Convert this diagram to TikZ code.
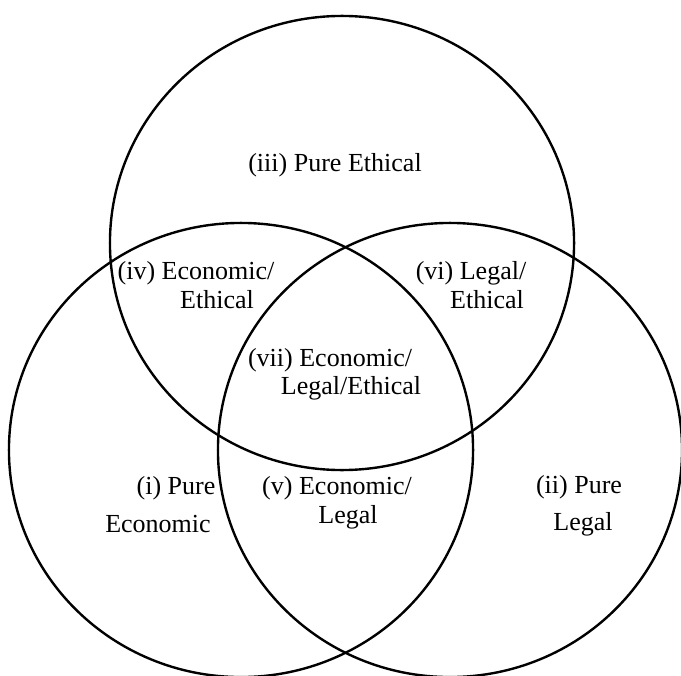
\documentclass[tikz,border=0pt]{standalone}
\usepackage{fontspec}
\setmainfont{Liberation Serif}
\usetikzlibrary{shapes.geometric}

\tikzset{
  zone/.style={draw, ellipse, line width=1.7pt, inner sep=0pt,
    minimum width=11.6cm, minimum height=11.35cm},
  lbl/.style={inner sep=0pt, font=\fontsize{18.5}{20}\selectfont}
}

\begin{document}
\begin{tikzpicture}[x=0.025cm, y=-0.025cm]
    \useasboundingbox (0,0) rectangle (681,675);

    % the three sets
    \node[zone] (Ethical) at (342, 243) {};
    \node[zone] (Economic) at (241, 450) {};
    \node[zone] (Legal) at (450, 450) {};

    % region labels
    \node[lbl] (PureEth) at (335, 165) {(iii) Pure Ethical};
    \node[lbl] (EcoEthA) at (196, 273) {(iv) Economic/};
    \node[lbl] (EcoEthB) at (217, 300) {Ethical};
    \node[lbl] (LegEthA) at (471, 273) {(vi) Legal/};
    \node[lbl] (LegEthB) at (487, 300) {Ethical};
    \node[lbl] (AllA) at (330, 360) {(vii) Economic/};
    \node[lbl] (AllB) at (351, 388) {Legal/Ethical};
    \node[lbl] (PureEcoA) at (176, 488) {(i) Pure};
    \node[lbl] (PureEcoB) at (158, 524) {Economic};
    \node[lbl] (EcoLegA) at (337, 488) {(v) Economic/};
    \node[lbl] (EcoLegB) at (348, 517) {Legal};
    \node[lbl] (PureLegA) at (579, 487) {(ii) Pure};
    \node[lbl] (PureLegB) at (583, 524) {Legal};
\end{tikzpicture}
\end{document}
